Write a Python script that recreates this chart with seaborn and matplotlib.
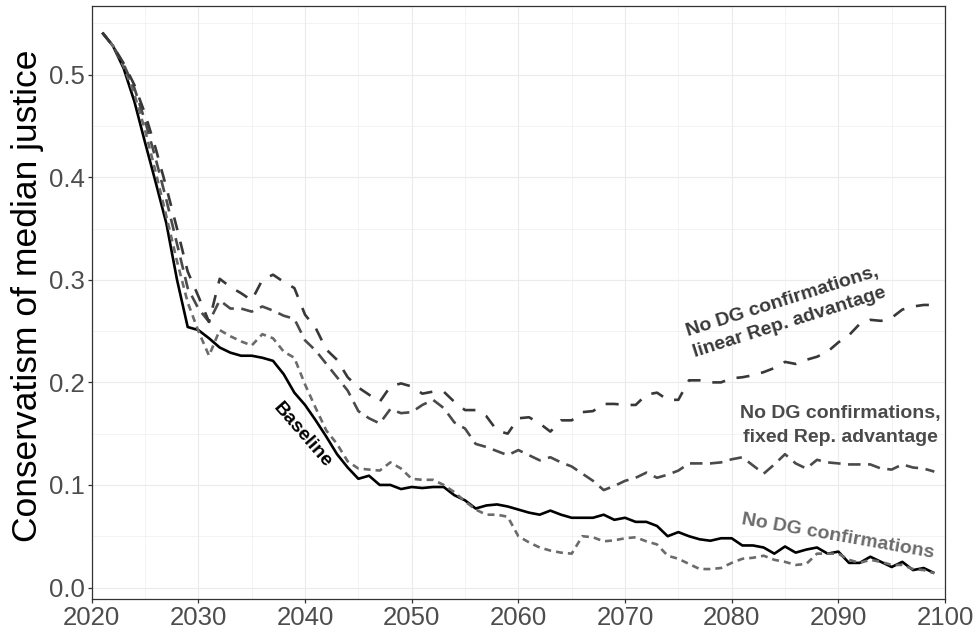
import numpy as np
import pandas as pd
import matplotlib
matplotlib.use("Agg")
import matplotlib.pyplot as plt
from matplotlib.ticker import MultipleLocator
import seaborn as sns

years = list(range(2021, 2100))

baseline = [0.541, 0.528, 0.506, 0.474, 0.434, 0.395, 0.355, 0.300, 0.254, 0.251,
            0.243, 0.234, 0.229, 0.226, 0.226, 0.224, 0.221, 0.208, 0.190, 0.178,
            0.163, 0.147, 0.130, 0.117, 0.106, 0.109, 0.100, 0.100, 0.096, 0.098,
            0.097, 0.098, 0.098, 0.090, 0.085, 0.077, 0.080, 0.081, 0.079, 0.076,
            0.073, 0.071, 0.075, 0.071, 0.068, 0.068, 0.068, 0.071, 0.066, 0.068,
            0.064, 0.064, 0.060, 0.050, 0.054, 0.050, 0.047, 0.0456, 0.048, 0.048,
            0.041, 0.041, 0.039, 0.033, 0.040, 0.034, 0.037, 0.039, 0.033, 0.035,
            0.024, 0.024, 0.030, 0.025, 0.020, 0.025, 0.017, 0.019, 0.014]

no_dg = [0.541, 0.528, 0.508, 0.481, 0.446, 0.405, 0.362, 0.318, 0.278, 0.250,
         0.226, 0.251, 0.245, 0.240, 0.236, 0.247, 0.243, 0.230, 0.224, 0.198,
         0.175, 0.153, 0.140, 0.123, 0.116, 0.115, 0.114, 0.122, 0.116, 0.106,
         0.105, 0.105, 0.100, 0.093, 0.084, 0.076, 0.071, 0.071, 0.069, 0.050,
         0.044, 0.039, 0.036, 0.034, 0.033, 0.050, 0.049, 0.045, 0.046, 0.048,
         0.049, 0.045, 0.042, 0.031, 0.028, 0.023, 0.018, 0.018, 0.019, 0.024,
         0.028, 0.029, 0.031, 0.027, 0.025, 0.022, 0.023, 0.033, 0.033, 0.033,
         0.027, 0.024, 0.027, 0.025, 0.022, 0.022, 0.018, 0.017, 0.014]

no_dg_fixed = [0.541, 0.528, 0.510, 0.487, 0.455, 0.418, 0.378, 0.335, 0.292, 0.272,
               0.259, 0.280, 0.272, 0.272, 0.269, 0.274, 0.270, 0.265, 0.262, 0.241,
               0.231, 0.218, 0.205, 0.192, 0.172, 0.165, 0.160, 0.174, 0.170, 0.171,
               0.178, 0.183, 0.175, 0.161, 0.155, 0.140, 0.137, 0.133, 0.129, 0.134,
               0.129, 0.124, 0.127, 0.122, 0.118, 0.111, 0.104, 0.095, 0.099, 0.104,
               0.107, 0.112, 0.107, 0.110, 0.114, 0.121, 0.121, 0.121, 0.122, 0.125,
               0.127, 0.119, 0.111, 0.120, 0.130, 0.121, 0.116, 0.1245, 0.122, 0.121,
               0.120, 0.120, 0.120, 0.116, 0.115, 0.120, 0.117, 0.116, 0.113]

no_dg_linear = [0.541, 0.528, 0.511, 0.490, 0.462, 0.428, 0.390, 0.350, 0.308, 0.284,
                0.259, 0.301, 0.293, 0.287, 0.280, 0.300, 0.305, 0.298, 0.292, 0.266,
                0.253, 0.232, 0.222, 0.205, 0.195, 0.188, 0.181, 0.196, 0.199, 0.196,
                0.189, 0.191, 0.191, 0.181, 0.173, 0.173, 0.167, 0.153, 0.150, 0.165,
                0.166, 0.160, 0.152, 0.163, 0.163, 0.171, 0.172, 0.179, 0.179, 0.178,
                0.178, 0.188, 0.190, 0.183, 0.183, 0.202, 0.202, 0.200, 0.200, 0.204,
                0.205, 0.207, 0.210, 0.214, 0.220, 0.218, 0.222, 0.225, 0.230, 0.239,
                0.246, 0.257, 0.261, 0.260, 0.263, 0.271, 0.274, 0.2755, 0.2755]

scenarios = ["Baseline", "No DG confirmations",
             "No DG confirmations, fixed Rep. advantage",
             "No DG confirmations, linear Rep. advantage"]
series = [baseline, no_dg, no_dg_fixed, no_dg_linear]

colors = {scenarios[0]: "#000000", scenarios[1]: "#6b6b6b",
          scenarios[2]: "#4a4a4a", scenarios[3]: "#383838"}
dash_map = {scenarios[0]: "", scenarios[1]: (5.0, 3.6),
            scenarios[2]: (9.0, 5.4), scenarios[3]: (9.4, 8.6)}

df = pd.DataFrame({
    "year": years * len(scenarios),
    "value": sum(series, []),
    "scenario": sum([[s] * len(years) for s in scenarios], []),
})

sns.set_style("white")
plt.rcParams["font.family"] = ["Liberation Sans", "DejaVu Sans"]
plt.rcParams["lines.scale_dashes"] = False
plt.rcParams["lines.dash_capstyle"] = "butt"
plt.rcParams["lines.solid_capstyle"] = "butt"

fig = plt.figure(figsize=(9.79, 6.32), dpi=100)
ax = fig.add_axes([0.09367, 0.05174, 0.8716, 0.93877])

sns.lineplot(data=df, x="year", y="value", hue="scenario", style="scenario",
             hue_order=scenarios, style_order=scenarios,
             palette=colors, dashes=dash_map, linewidth=1.9,
             legend=False, ax=ax, sort=False)

ax.set_xlim(2020, 2100)
ax.set_ylim(-0.0115, 0.567)
ax.xaxis.set_major_locator(MultipleLocator(10))
ax.xaxis.set_minor_locator(MultipleLocator(5))
ax.yaxis.set_major_locator(MultipleLocator(0.1))
ax.yaxis.set_minor_locator(MultipleLocator(0.05))
ax.yaxis.set_major_formatter(matplotlib.ticker.FormatStrFormatter("%.1f"))

ax.grid(which="major", color="#ebebeb", linewidth=0.8)
ax.grid(which="minor", color="#ebebeb", linewidth=0.4)
ax.set_axisbelow(True)
for sp in ax.spines.values():
    sp.set_color("#333333")
    sp.set_linewidth(0.9)

ax.tick_params(which="major", length=3, width=0.9, color="#333333",
               labelsize=18.5, labelcolor="#4d4d4d", pad=2, left=True, bottom=True)
ax.tick_params(which="minor", length=0)

ax.set_xlabel("")
ax.set_ylabel("Conservatism of median justice", fontsize=25.5, color="black", labelpad=1)
ax.yaxis.set_label_coords(-0.056, 0.512)

ax.text(2039.75, 0.148, "Baseline", rotation=-49, rotation_mode="anchor",
        ha="center", va="center", fontsize=14, fontweight="bold", color="black")
ax.text(2090.0, 0.0496, "No DG confirmations", rotation=-10, rotation_mode="anchor",
        ha="center", va="center", fontsize=14, fontweight="bold", color="#6b6b6b")
ax.text(2090.2, 0.158, "No DG confirmations,\nfixed Rep. advantage",
        ha="center", va="center", fontsize=14, fontweight="bold", color="#4a4a4a",
        linespacing=1.5)
ax.text(2085.1, 0.2685, "No DG confirmations,\nlinear Rep. advantage", rotation=17.5,
        rotation_mode="anchor", ha="center", va="center", fontsize=14,
        fontweight="bold", color="#383838", linespacing=1.4)

fig.savefig("out.png", dpi=100)
